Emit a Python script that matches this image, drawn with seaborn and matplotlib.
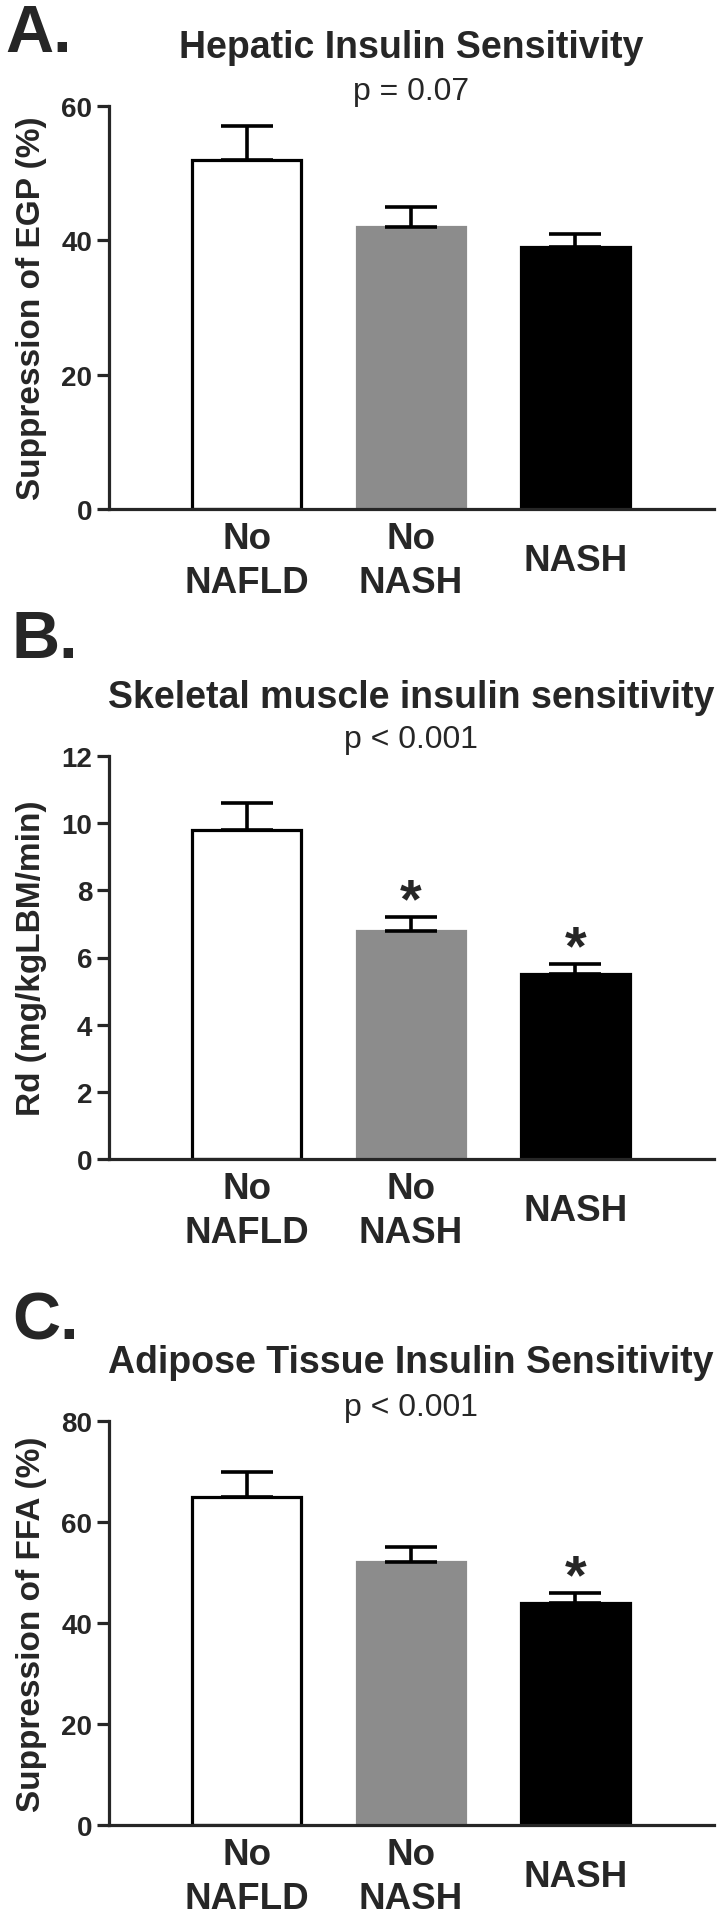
import matplotlib
matplotlib.use("Agg")
import matplotlib.pyplot as plt
import seaborn as sns

# groups and bar styling
groups = ["No\nNAFLD", "No\nNASH", "NASH"]
bar_colors = ["white", "#8c8c8c", "black"]
edge_colors = ["black", "#8c8c8c", "black"]

# A. hepatic insulin sensitivity (suppression of EGP, %)
hepatic_mean = [52, 42, 39]
hepatic_sem = [5, 3, 2]
hepatic_stars = ["", "", ""]

# B. skeletal muscle insulin sensitivity (Rd, mg/kgLBM/min)
muscle_mean = [9.8, 6.8, 5.5]
muscle_sem = [0.8, 0.4, 0.3]
muscle_stars = ["", "*", "*"]

# C. adipose tissue insulin sensitivity (suppression of FFA, %)
adipose_mean = [65, 52, 44]
adipose_sem = [5, 3, 2]
adipose_stars = ["", "", "*"]

sns.set_style("ticks")
plt.rcParams["font.family"] = ["Liberation Sans", "DejaVu Sans"]
plt.rcParams["font.weight"] = "bold"

W, H = 728, 1915
fig = plt.figure(figsize=(W / 100, H / 100), dpi=100)


def px_axes(top, bottom, left=109, right=714):
    return fig.add_axes([left / W, 1 - bottom / H, (right - left) / W, (bottom - top) / H])


def draw_panel(ax, means, sems, stars, ymax, step, ylabel):
    sns.barplot(x=groups, y=means, hue=groups, palette=bar_colors, legend=False,
                width=0.657, errorbar=None, linewidth=2.3, ax=ax, zorder=2)
    for patch, ec in zip(ax.patches, edge_colors):
        patch.set_edgecolor(ec)
        patch.set_linewidth(2.3)
    x = list(range(len(groups)))
    ax.errorbar(x, means, yerr=[[0] * len(sems), sems], fmt="none", ecolor="black",
                elinewidth=2.6, capsize=19, capthick=2.6, zorder=3)
    for i, s in enumerate(stars):
        if s:
            ax.annotate(s, xy=(i, means[i] + sems[i]), xytext=(0, 0.5),
                        textcoords="offset points", ha="center", va="baseline",
                        fontsize=40, fontweight="bold")
    ax.set_xlim(-0.836, 2.842)
    ax.set_ylim(0, ymax)
    ax.set_yticks(range(0, ymax + 1, step))
    sns.despine(ax=ax)
    for sp in ["left", "bottom"]:
        ax.spines[sp].set_linewidth(2.3)
    ax.tick_params(axis="y", length=8.6, width=2.3, pad=3.5, labelsize=20)
    ax.tick_params(axis="x", length=0, pad=37, labelsize=26.5)
    for lab in ax.get_xticklabels():
        lab.set_va("center")
        lab.set_linespacing(1.35)
        lab.set_fontweight("bold")
    for lab in ax.get_yticklabels():
        lab.set_fontweight("bold")
    ax.set_xlabel("")
    ax.set_ylabel(ylabel, fontsize=24, fontweight="bold")
    ax.yaxis.set_label_coords(-0.1025, 0.5)


def fig_text(xp, yp, s, **kw):
    fig.text(xp / W, 1 - yp / H, s, **kw)


panels = [
    (107, 510, hepatic_mean, hepatic_sem, hepatic_stars, 60, 20,
     "Suppression of EGP (%)", "A.", 5, 52, "Hepatic Insulin Sensitivity", 58, "p = 0.07", 100),
    (757, 1160, muscle_mean, muscle_sem, muscle_stars, 12, 2,
     "Rd (mg/kgLBM/min)", "B.", 12, 658, "Skeletal muscle insulin sensitivity", 708, "p < 0.001", 748),
    (1422, 1826, adipose_mean, adipose_sem, adipose_stars, 80, 20,
     "Suppression of FFA (%)", "C.", 12, 1340, "Adipose Tissue Insulin Sensitivity", 1373, "p < 0.001", 1416),
]

for (top, bottom, m, e, st, ymax, step, ylab, letter, lx, ly, title, ty, ptxt, py) in panels:
    ax = px_axes(top, bottom)
    draw_panel(ax, m, e, st, ymax, step, ylab)
    fig_text(lx, ly, letter, fontsize=48, fontweight="heavy", ha="left", va="baseline")
    fig_text(411, ty, title, fontsize=27, fontweight="bold", ha="center", va="baseline")
    fig_text(411, py, ptxt, fontsize=23, fontweight="normal", ha="center", va="baseline")

fig.savefig("out.png", dpi=100, facecolor="white")
